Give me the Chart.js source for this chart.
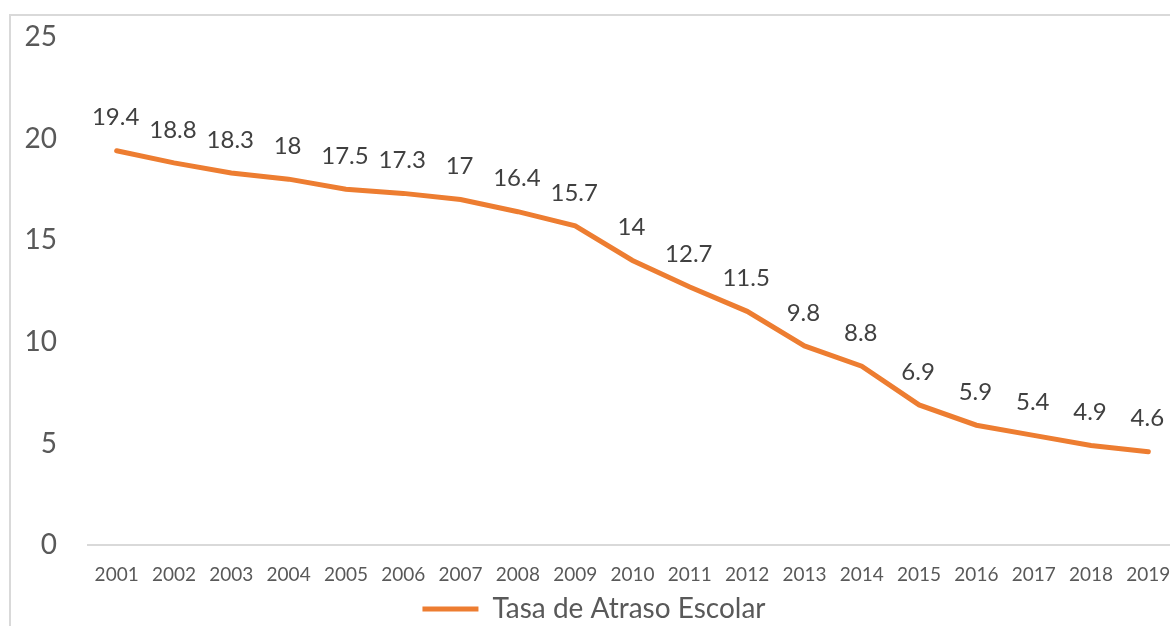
<!DOCTYPE html>
<html>
<head>
<meta charset="utf-8">
<script src="https://cdn.jsdelivr.net/npm/chart.js@4/dist/chart.umd.min.js"></script>
<style>
    html, body { margin: 0; padding: 0; background: #fff; overflow: hidden; }
    #wrap {
        position: absolute;
        left: 9px;
        top: 14px;
        width: 1200px;
        height: 640px;
        overflow: hidden;
        border-left: 2px solid #d9d9d9;
        border-top: 2px solid #d9d9d9;
    }
    #rezagoChart { position: absolute; left: 0; top: -27px; }
</style>
</head>
<body>
<div id="wrap">
    <canvas id="rezagoChart" width="1190" height="647"></canvas>
</div>
<script>
const years = ['2001', '2002', '2003', '2004', '2005', '2006', '2007', '2008', '2009', '2010',
               '2011', '2012', '2013', '2014', '2015', '2016', '2017', '2018', '2019'];
const tasaAtraso = [19.4, 18.8, 18.3, 18, 17.5, 17.3, 17, 16.4, 15.7, 14,
                    12.7, 11.5, 9.8, 8.8, 6.9, 5.9, 5.4, 4.9, 4.6];
const yTicks = [0, 5, 10, 15, 20, 25];

const FONT = 'Lato';

// values written above each point (no datalabels plugin available offline)
const valueLabels = {
    id: 'valueLabels',
    afterDatasetsDraw(chart) {
        const ctx = chart.ctx;
        const meta = chart.getDatasetMeta(0);
        ctx.save();
        ctx.font = '24px ' + FONT;
        ctx.fillStyle = '#404040';
        ctx.textAlign = 'center';
        ctx.textBaseline = 'middle';
        meta.data.forEach((pt, i) => {
            ctx.fillText(String(tasaAtraso[i]), pt.x - 1, pt.y - 33);
        });
        ctx.restore();
    }
};

new Chart(document.getElementById('rezagoChart'), {
    type: 'line',
    data: {
        labels: years,
        datasets: [{
            label: 'Tasa de Atraso Escolar',
            data: tasaAtraso,
            borderColor: '#ED7D31',
            backgroundColor: '#ED7D31',
            borderWidth: 5,
            pointRadius: 0,
            tension: 0,
            borderCapStyle: 'round'
        }]
    },
    options: {
        responsive: false,
        animation: false,
        layout: { padding: { top: 0, right: 24, bottom: 3, left: 0 } },
        plugins: {
            legend: {
                position: 'bottom',
                labels: {
                    usePointStyle: true,
                    pointStyle: 'line',
                    pointStyleWidth: 56,
                    color: '#595959',
                    font: { family: FONT, size: 28 },
                    padding: 10
                }
            },
            tooltip: { enabled: false }
        },
        scales: {
            x: {
                offset: true,
                afterFit(scale) {
                    scale.height -= 19;
                },
                grid: { display: false, drawTicks: false },
                border: { display: true, color: '#D9D9D9', width: 2 },
                ticks: {
                    color: '#595959',
                    font: { family: FONT, size: 19 },
                    padding: 18,
                    maxRotation: 0,
                    autoSkip: false
                }
            },
            y: {
                min: 0,
                max: 25,
                afterBuildTicks(scale) {
                    scale.ticks = yTicks.map(v => ({ value: v }));
                },
                afterFit(scale) {
                    scale.width = 77;
                },
                grid: { display: false, drawTicks: false },
                border: { display: false },
                ticks: {
                    color: '#595959',
                    font: { family: FONT, size: 28 },
                    padding: 31
                }
            }
        }
    },
    plugins: [valueLabels]
});
</script>
</body>
</html>
